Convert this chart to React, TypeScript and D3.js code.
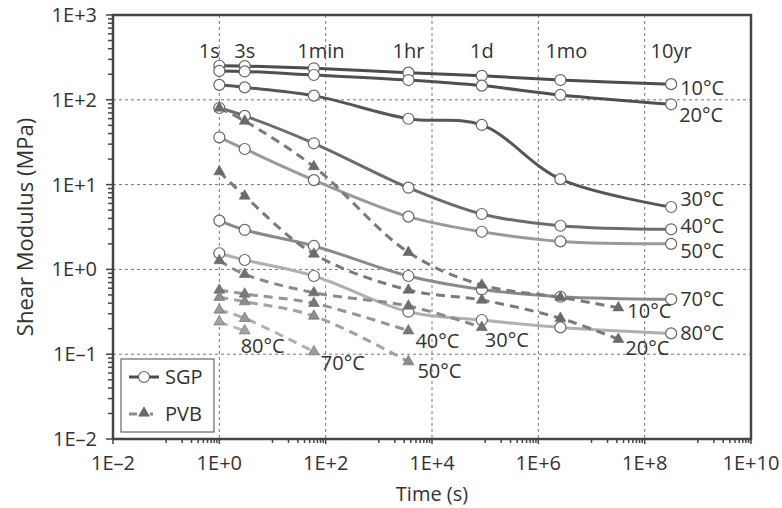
import React from "react";
import { scaleLog, line, curveCatmullRom, range, symbol, symbolTriangle } from "d3";

// time points (seconds) and their labels along the top
const timeSec = [1, 3, 60, 3600, 86400, 2.6e6, 3.15e8];
const timeLabels = ["1s", "3s", "1min", "1hr", "1d", "1mo", "10yr"];
// PVB has no 10yr point, the last one sits at ~1 year
const pvbTimeSec = [1, 3, 60, 3600, 86400, 2.6e6, 3.2e7];

// SGP shear modulus (MPa)
const sgp10 = [252, 250, 235, 209, 192, 171, 153];
const sgp20 = [219, 216, 196, 171, 147, 114, 88.5];
const sgp30 = [150, 140, 112, 59.8, 50.5, 11.6, 5.44];
const sgp40 = [80, 64.6, 30.7, 9.2, 4.5, 3.27, 2.97];
const sgp50 = [36.1, 26.3, 11.3, 4.19, 2.78, 2.14, 2.0];
const sgp70 = [3.76, 2.92, 1.89, 0.836, 0.58, 0.476, 0.444];
const sgp80 = [1.55, 1.29, 0.836, 0.317, 0.253, 0.207, 0.176];

// PVB shear modulus (MPa)
const pvb10 = [80, 56.2, 16.3, 1.59, 0.655, 0.469, 0.353];
const pvb20 = [14.2, 7.34, 1.52, 0.571, 0.435, 0.265, 0.15];
const pvb30 = [1.27, 0.875, 0.531, 0.37, 0.207];
const pvb40 = [0.571, 0.513, 0.398, 0.189];
const pvb50 = [0.469, 0.416, 0.282, 0.0816];
const pvb70 = [0.332, 0.265, 0.107];
const pvb80 = [0.241, 0.189];

const tempLabels = ["10°C", "20°C", "30°C", "40°C", "50°C", "70°C", "80°C"];

const yTickLabels = ["1E–2", "1E–1", "1E+0", "1E+1", "1E+2", "1E+3"];
const xTickLabels = ["1E–2", "1E+0", "1E+2", "1E+4", "1E+6", "1E+8", "1E+10"];

const sgpSeries = [sgp10, sgp20, sgp30, sgp40, sgp50, sgp70, sgp80];
const pvbSeries = [pvb10, pvb20, pvb30, pvb40, pvb50, pvb70, pvb80];

const sgpColors = ["#4c4c4c", "#505050", "#565656", "#6c6c6c", "#9a9a9a", "#8a8a8a", "#b0b0b0"];
const pvbColors = ["#7a7a7a", "#7a7a7a", "#8a8a8a", "#959595", "#a2a2a2", "#b0b0b0", "#bcbcbc"];
const pvbFill = ["#6a6a6a", "#6a6a6a", "#707070", "#787878", "#8e8e8e", "#9a9a9a", "#a4a4a4"];

// label offsets from the last point of each curve
const sgpLabelOffset = [[9, 11], [8, 18], [9, -1], [9, 4], [9, 14], [9, 7], [9, 7]];
const pvbLabelOffset = [[9, 10], [7, 16], [3, 20], [7, 17], [9, 16], [7, 18], [-4, 22]];

const width = 782,
  height = 508;
const margin = { top: 15, right: 31, bottom: 69, left: 113 };
const font = "'Open Sans', 'DejaVu Sans', sans-serif";
const fs = 20;
const textColor = "#333";

export default function App() {
  const x0 = margin.left,
    x1 = width - margin.right,
    y0 = margin.top,
    y1 = height - margin.bottom;

  const xScale = scaleLog().domain([1e-2, 1e10]).range([x0, x1]);
  const yScale = scaleLog().domain([1e-2, 1e3]).range([y1, y0]);

  const makeLine = (times: number[]) =>
    line<number>()
      .x((_, i) => xScale(times[i]))
      .y(d => yScale(d))
      .curve(curveCatmullRom.alpha(0.5));

  const sgpLine = makeLine(timeSec);
  const pvbLine = makeLine(pvbTimeSec);
  const tri = symbol().type(symbolTriangle).size(52)() as string;

  const yMajor = range(-2, 4).map(e => Math.pow(10, e));
  const yMinor: number[] = [];
  range(-2, 3).forEach(e => range(2, 10).forEach(k => yMinor.push(k * Math.pow(10, e))));
  const xMajor = range(-2, 11, 2).map(e => Math.pow(10, e));
  const xMinor: number[] = [];
  range(-1, 10, 2).forEach(e => range(1, 10).forEach(k => xMinor.push(k * Math.pow(10, e))));

  const gridX = xMajor.slice(1, -1);
  const gridY = yMajor.slice(1, -1);

  return (
    <svg
      width={width}
      height={height}
      style={{ position: "absolute", left: 0, top: 0, background: "#fff" }}
      fontFamily={font}
    >
      {/* grid */}
      {gridX.map(v => (
        <line key={"gx" + v} x1={xScale(v)} x2={xScale(v)} y1={y0} y2={y1}
          stroke="#777" strokeWidth={1} strokeDasharray="3,3" />
      ))}
      {gridY.map(v => (
        <line key={"gy" + v} x1={x0} x2={x1} y1={yScale(v)} y2={yScale(v)}
          stroke="#777" strokeWidth={1} strokeDasharray="3,3" />
      ))}

      {/* ticks */}
      {yMajor.map(v => (
        <line key={"ytm" + v} x1={x0 - 7} x2={x0} y1={yScale(v)} y2={yScale(v)} stroke="#444" strokeWidth={1.5} />
      ))}
      {yMinor.map(v => (
        <line key={"ytn" + v} x1={x0 - 5} x2={x0} y1={yScale(v)} y2={yScale(v)} stroke="#444" strokeWidth={1.5} />
      ))}
      {xMajor.map(v => (
        <line key={"xtm" + v} x1={xScale(v)} x2={xScale(v)} y1={y1} y2={y1 + 5} stroke="#444" strokeWidth={1.5} />
      ))}
      {xMinor.map(v => (
        <line key={"xtn" + v} x1={xScale(v)} x2={xScale(v)} y1={y1} y2={y1 + 4} stroke="#444" strokeWidth={1.5} />
      ))}

      {/* tick labels */}
      {yMajor.map((v, i) => (
        <text key={"yl" + v} x={x0 - 16} y={yScale(v) + 7} textAnchor="end" fontSize={fs} fill={textColor}>
          {yTickLabels[i]}
        </text>
      ))}
      {xMajor.map((v, i) => (
        <text key={"xl" + v} x={xScale(v)} y={y1 + 31} textAnchor="middle" fontSize={fs} fill={textColor}>
          {xTickLabels[i]}
        </text>
      ))}

      {/* axis titles */}
      <text x={(x0 + x1) / 2} y={height - 7} textAnchor="middle" fontSize={20} fill={textColor}>
        Time (s)
      </text>
      <text transform={`translate(33, ${(y0 + y1) / 2}) rotate(-90)`} textAnchor="middle" fontSize={22} fill={textColor}>
        Shear Modulus (MPa)
      </text>

      {/* time labels */}
      {timeSec.map((t, i) => (
        <text key={"tl" + i} x={xScale(t) + (i === 0 ? -10 : i === 2 ? 7 : i === 5 ? 6 : 0)} y={58}
          textAnchor="middle" fontSize={fs} fill={textColor}>
          {timeLabels[i]}
        </text>
      ))}

      {/* SGP curves */}
      {sgpSeries.map((s, i) => (
        <path key={"sl" + i} d={sgpLine(s) || ""} fill="none" stroke={sgpColors[i]} strokeWidth={3} />
      ))}
      {sgpSeries.map((s, i) =>
        s.map((v, j) => (
          <circle key={"sc" + i + "-" + j} cx={xScale(timeSec[j])} cy={yScale(v)} r={5.5}
            fill="#fff" stroke="#666" strokeWidth={1.2} />
        ))
      )}

      {/* PVB curves */}
      {pvbSeries.map((s, i) => (
        <path key={"pl" + i} d={pvbLine(s) || ""} fill="none" stroke={pvbColors[i]} strokeWidth={3}
          strokeDasharray="9,6" />
      ))}
      {pvbSeries.map((s, i) =>
        s.map((v, j) => (
          <path key={"pt" + i + "-" + j} d={tri}
            transform={`translate(${xScale(pvbTimeSec[j])}, ${yScale(v)})`}
            fill={pvbFill[i]} stroke="#666" strokeWidth={0.6} />
        ))
      )}

      {/* curve labels */}
      {sgpSeries.map((s, i) => {
        const n = s.length - 1;
        return (
          <text key={"sgl" + i} x={xScale(timeSec[n]) + sgpLabelOffset[i][0]} y={yScale(s[n]) + sgpLabelOffset[i][1]}
            fontSize={fs} fill={textColor}>
            {tempLabels[i]}
          </text>
        );
      })}
      {pvbSeries.map((s, i) => {
        const n = s.length - 1;
        return (
          <text key={"pvl" + i} x={xScale(pvbTimeSec[n]) + pvbLabelOffset[i][0]} y={yScale(s[n]) + pvbLabelOffset[i][1]}
            fontSize={fs} fill={textColor}>
            {tempLabels[i]}
          </text>
        );
      })}

      {/* frame */}
      <rect x={x0} y={y0} width={x1 - x0} height={y1 - y0} fill="none" stroke="#444" strokeWidth={2.5} />

      {/* legend */}
      <g>
        <rect x={121} y={359} width={93} height={73} fill="#fff" stroke="#666" strokeWidth={1.2} />
        <line x1={129} x2={159} y1={377} y2={377} stroke="#4c4c4c" strokeWidth={3} />
        <circle cx={144} cy={377} r={5.5} fill="#fff" stroke="#666" strokeWidth={1.2} />
        <text x={165} y={384} fontSize={fs} fill={textColor}>SGP</text>
        <line x1={129} x2={160} y1={414} y2={414} stroke="#8a8a8a" strokeWidth={3} strokeDasharray="8,5,3,5,3" />
        <path d={tri} transform="translate(144, 413)" fill="#6a6a6a" stroke="#666" strokeWidth={0.6} />
        <text x={165} y={421} fontSize={fs} fill={textColor}>PVB</text>
      </g>
    </svg>
  );
}
